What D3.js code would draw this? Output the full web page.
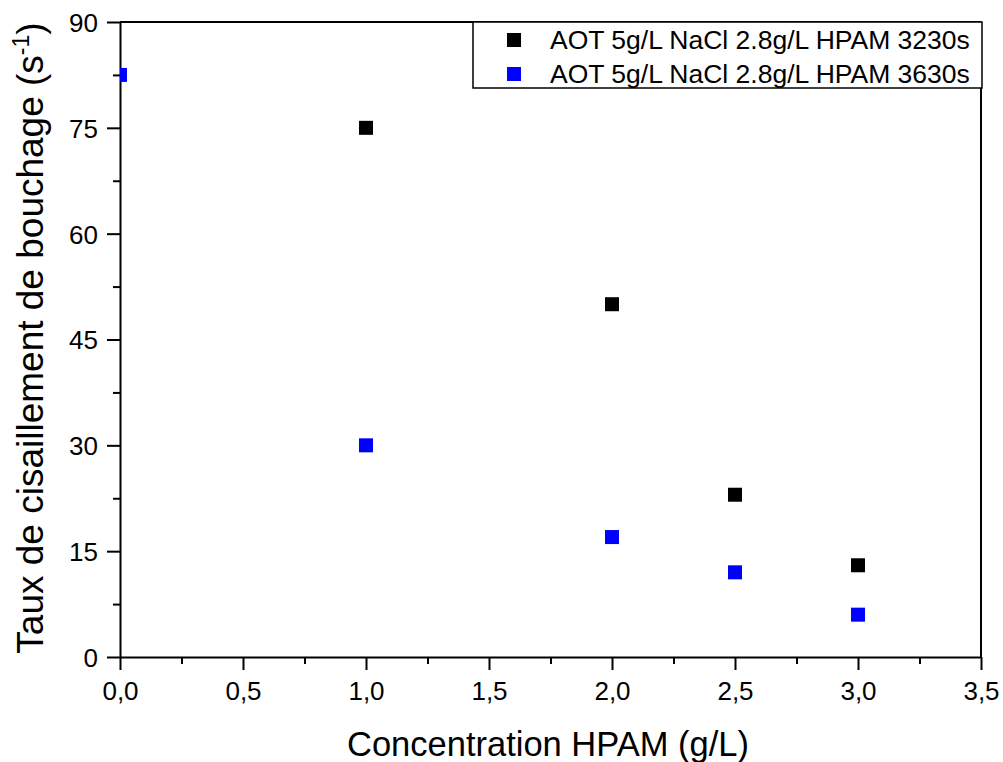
<!DOCTYPE html>
<html><head><meta charset="utf-8">
<script src="https://cdn.jsdelivr.net/npm/d3@7"></script>
<style>body{margin:0;background:#fff}svg{display:block}text{font-family:"Liberation Sans",Arial,sans-serif;fill:#000}</style>
</head><body><svg id="c" width="1003" height="762"></svg>
<script>
const seriesNames = ["AOT 5g/L NaCl 2.8g/L HPAM 3230s", "AOT 5g/L NaCl 2.8g/L HPAM 3630s"];
const seriesColors = ["#000000", "#0000ff"];
const blackX = [1.0, 2.0, 2.5, 3.0];
const blackY = [75, 50, 23, 13];
const blueX = [0.0, 1.0, 2.0, 2.5, 3.0];
const blueY = [82.5, 30, 17, 12, 6];
const xTicks = [0, 0.5, 1, 1.5, 2, 2.5, 3, 3.5];
const yTicks = [0, 15, 30, 45, 60, 75, 90];
const xTitle = "Concentration HPAM (g/L)";
const yTitle = "Taux de cisaillement de bouchage (s";

const svg = d3.select("#c");
const L = 120, R = 981, T = 22, B = 657;
const x = d3.scaleLinear().domain([0, 3.5]).range([L, R]);
const y = d3.scaleLinear().domain([0, 90]).range([B, T]);
const fmt = d => d3.format(".1f")(d).replace(".", ",");

svg.append("defs").append("clipPath").attr("id","clip").append("rect")
  .attr("x", L).attr("y", T).attr("width", R - L).attr("height", B - T);

const xMinor = d3.range(0.25, 3.5, 0.5);
const yMinor = d3.range(7.5, 90, 15);

const gx = svg.append("g").attr("transform", `translate(0,${B})`)
  .call(d3.axisBottom(x).tickValues(xTicks).tickFormat(fmt).tickSize(13).tickSizeOuter(0).tickPadding(8));
svg.append("g").attr("transform", `translate(0,${B})`)
  .call(d3.axisBottom(x).tickValues(xMinor).tickFormat("").tickSize(7).tickSizeOuter(0))
  .select(".domain").remove();
const gy = svg.append("g").attr("transform", `translate(${L},0)`)
  .call(d3.axisLeft(y).tickValues(yTicks).tickSize(13).tickSizeOuter(0).tickPadding(9));
svg.append("g").attr("transform", `translate(${L},0)`)
  .call(d3.axisLeft(y).tickValues(yMinor).tickFormat("").tickSize(7).tickSizeOuter(0))
  .select(".domain").remove();
svg.selectAll(".tick line, .domain").attr("stroke", "#000").attr("stroke-width", 2);
svg.selectAll(".tick text").style("font-size", "26px").attr("fill", "#000");
gx.selectAll(".tick text").attr("dy", null).attr("y", 43);
gy.selectAll(".tick text").attr("dy", "0.36em");

// top & right frame
svg.append("line").attr("x1", L).attr("x2", R).attr("y1", T).attr("y2", T).attr("stroke", "#000").attr("stroke-width", 2);
svg.append("line").attr("x1", R).attr("x2", R).attr("y1", T).attr("y2", B).attr("stroke", "#000").attr("stroke-width", 2);

// points
const S = 14;
const plot = svg.append("g").attr("clip-path", "url(#clip)");
plot.selectAll(".b").data(blackX.map((d, i) => [d, blackY[i]])).join("rect")
  .attr("x", d => x(d[0]) - S/2).attr("y", d => y(d[1]) - S/2).attr("width", S).attr("height", S).attr("fill", seriesColors[0]);
plot.selectAll(".u").data(blueX.map((d, i) => [d, blueY[i]])).join("rect")
  .attr("x", d => x(d[0]) - S/2).attr("y", d => y(d[1]) - S/2).attr("width", S).attr("height", S).attr("fill", seriesColors[1]);

// legend
const lg = svg.append("g");
lg.append("rect").attr("x", 473).attr("y", T).attr("width", R - 473 + 1).attr("height", 66)
  .attr("fill", "#fff").attr("stroke", "#000").attr("stroke-width", 1.5);
seriesNames.forEach((n, i) => {
  const cy = 40 + i * 34;
  lg.append("rect").attr("x", 514 - 7).attr("y", cy - 7).attr("width", 14).attr("height", 14).attr("fill", seriesColors[i]);
  lg.append("text").attr("x", 550).attr("y", cy + 9).style("font-size", "26.5px").text(n);
});

// titles
svg.append("text").attr("x", 548).attr("y", 756).attr("text-anchor", "middle").style("font-size", "34.5px").text(xTitle);
const yt = svg.append("text").attr("transform", `translate(43,338) rotate(-90)`).attr("text-anchor", "middle").style("font-size", "37px");
yt.append("tspan").text(yTitle);
yt.append("tspan").attr("dy", -14).style("font-size", "23px").text("-1");
yt.append("tspan").attr("dy", 14).text(")");
</script></body></html>
